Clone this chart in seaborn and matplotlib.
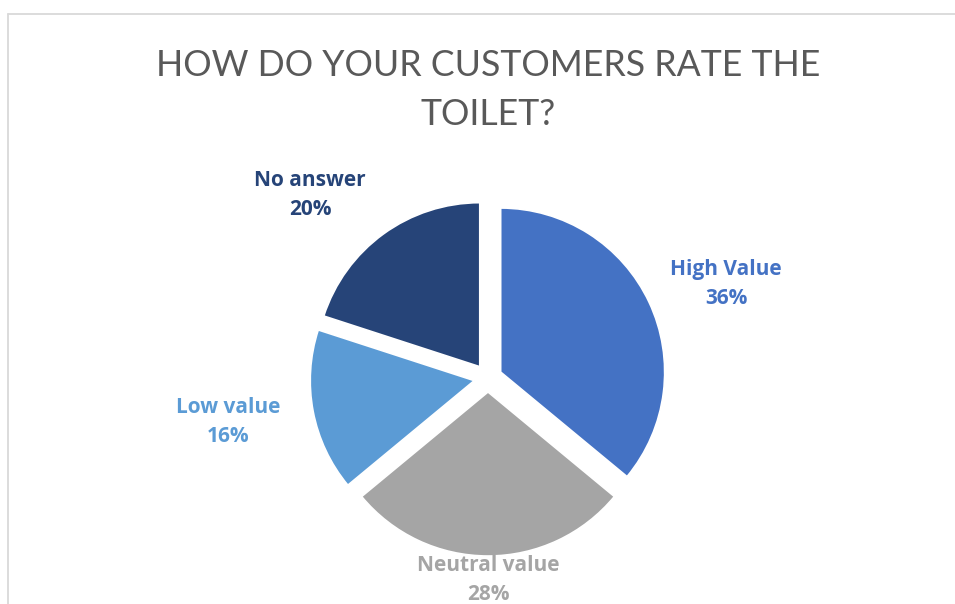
import matplotlib
matplotlib.use("Agg")
import matplotlib.pyplot as plt
from matplotlib.lines import Line2D
import seaborn as sns

# Survey answers
categories = ["High Value", "Neutral value", "Low value", "No answer"]
shares = [36, 28, 16, 20]
slice_colors = ["#4472C4", "#A5A5A5", "#5B9BD5", "#264478"]
title_text = "HOW DO YOUR CUSTOMERS RATE THE\nTOILET?"

sns.set_theme(style="white")
plt.rcParams["font.family"] = ["Lato", "DejaVu Sans"]

W, H = 955, 604
fig = plt.figure(figsize=(W / 100, H / 100), dpi=100)
ax = fig.add_axes([0, 0, 1, 1])

# pie drawn in pixel-sized data units (y pointing up)
center = (488, H - 378)
radius = 164
gap = 14

ax.pie(
    shares,
    colors=slice_colors,
    startangle=90,
    counterclock=False,
    center=center,
    radius=radius,
    explode=[gap] * len(shares),
    wedgeprops=dict(edgecolor="white", linewidth=1.2),
)

# data label anchors (pixel coordinates, measured from the top)
label_anchor = {
    "High Value": (726, 284),
    "Neutral value": (488, 580),
    "Low value": (228, 422),
    "No answer": (310, 195),
}
for cat, val, col in zip(categories, shares, slice_colors):
    lx, ly = label_anchor[cat]
    ax.text(lx, H - ly, f"{cat}\n{val}%", color=col, ha="center", va="center",
            fontsize=15, fontweight="bold", linespacing=1.52,
            family=["Open Sans", "DejaVu Sans"])

ax.text(488, H - 90, title_text, ha="center", va="center", fontsize=25.7,
        color="#595959", fontweight="normal", linespacing=1.6)

ax.set_xlim(0, W)
ax.set_ylim(0, H)
ax.set_aspect("equal")
ax.axis("off")

# chart area border (top and left edges visible)
fig.add_artist(Line2D([8 / W, 1.0], [1 - 14 / H, 1 - 14 / H], color="#D9D9D9", lw=1.3))
fig.add_artist(Line2D([8 / W, 8 / W], [0, 1 - 14 / H], color="#D9D9D9", lw=1.3))

fig.savefig("out.png", dpi=100)
